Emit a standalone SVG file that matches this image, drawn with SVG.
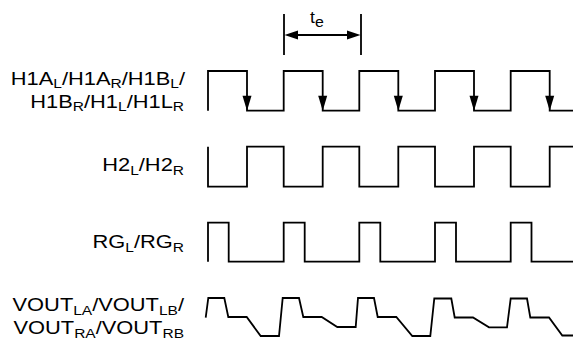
<svg xmlns="http://www.w3.org/2000/svg" width="573" height="351" viewBox="0 0 573 351">
<style>
.w{fill:none;stroke:#000;stroke-width:1.8;stroke-linejoin:miter}
.lbl{font-family:"Liberation Sans",Arial,sans-serif;font-size:19px;fill:#000}
.s{font-size:13.5px}
.ah{fill:#000}
</style>
<defs>
<path id="ahd" d="M0,0 L-4.5,-15 L4.5,-15 Z"/>
</defs>
<rect width="573" height="351" fill="#fff"/>
<g id="labels">
<g id="label-h1">
<text class="lbl" text-anchor="end" transform="translate(185,84.5) scale(1.15,1)">H1A<tspan class="s" dy="3.5">L</tspan><tspan dy="-3.5">/H1A</tspan><tspan class="s" dy="3.5">R</tspan><tspan dy="-3.5">/H1B</tspan><tspan class="s" dy="3.5">L</tspan><tspan dy="-3.5">/</tspan></text>
<text class="lbl" text-anchor="end" transform="translate(184,107.5) scale(1.15,1)">H1B<tspan class="s" dy="3.5">R</tspan><tspan dy="-3.5">/H1</tspan><tspan class="s" dy="3.5">L</tspan><tspan dy="-3.5">/H1L</tspan><tspan class="s" dy="3.5">R</tspan></text>
</g>
<g id="label-h2">
<text class="lbl" text-anchor="end" transform="translate(184,171) scale(1.15,1)">H2<tspan class="s" dy="3.5">L</tspan><tspan dy="-3.5">/H2</tspan><tspan class="s" dy="3.5">R</tspan></text>
</g>
<g id="label-rg">
<text class="lbl" text-anchor="end" transform="translate(184,248) scale(1.15,1)">RG<tspan class="s" dy="3.5">L</tspan><tspan dy="-3.5">/RG</tspan><tspan class="s" dy="3.5">R</tspan></text>
</g>
<g id="label-vout">
<text class="lbl" text-anchor="end" transform="translate(184,311) scale(1.15,1)">VOUT<tspan class="s" dy="3.5">LA</tspan><tspan dy="-3.5">/VOUT</tspan><tspan class="s" dy="3.5">LB</tspan><tspan dy="-3.5">/</tspan></text>
<text class="lbl" text-anchor="end" transform="translate(184,334) scale(1.15,1)">VOUT<tspan class="s" dy="3.5">RA</tspan><tspan dy="-3.5">/VOUT</tspan><tspan class="s" dy="3.5">RB</tspan></text>
</g>
</g>
<g id="wave-h1">
<path class="w" d="M208,110.7 V71 H247 V110.7 H283.7 V71 H322.7 V110.7 H359.3 V71 H398.3 V110.7 H435 V71 H474 V110.7 H510.7 V71 H549.7 V110.7 H573"/>
<use href="#ahd" x="247" y="110.7"/>
<use href="#ahd" x="322.7" y="110.7"/>
<use href="#ahd" x="398.3" y="110.7"/>
<use href="#ahd" x="474" y="110.7"/>
<use href="#ahd" x="549.7" y="110.7"/>
</g>
<g id="wave-h2">
<path class="w" d="M208,146.7 V186.7 H247 V146.7 H283.7 V186.7 H322.7 V146.7 H359.3 V186.7 H398.3 V146.7 H435 V186.7 H474 V146.7 H510.7 V186.7 H549.7 V146.7 H573"/>
</g>
<g id="wave-rg">
<path class="w" d="M208,261.7 V222.7 H228.7 V261.7 H283.7 V222.7 H304.7 V261.7 H359.3 V222.7 H380.3 V261.7 H435 V222.7 H456 V261.7 H510.7 V222.7 H531.5 V261.7 H573"/>
</g>
<g id="wave-vout">
<path class="w" d="M205.7,317.7 L208.3,298 H224.3 L228.3,317 H246.7 L260.7,336 H279 L282.7,298 H299 L303.3,317 H321.7 L337.3,327 H355.7 L358,298 H374 L377.7,317 H396.3 L412.3,336 H430.3 L434.3,298.5 H451.3 L454.7,317.5 H473 L489,327.3 H507 L510.7,298.5 H527 L530.3,317.5 H549 L562.3,335.5 H573"/>
</g>
<g id="connectors">
<line class="w" x1="284" y1="14" x2="284" y2="55"/>
<line class="w" x1="361" y1="14" x2="361" y2="55"/>
<line class="w" x1="290" y1="35" x2="355" y2="35"/>
<path class="ah" d="M284.5,35 L298,30.5 L298,39.5 Z"/>
<path class="ah" d="M360.5,35 L347,30.5 L347,39.5 Z"/>
<text class="lbl" transform="translate(310,23) scale(1.1,1)" style="font-size:16px">t<tspan dy="4" style="font-size:14.5px">e</tspan></text>
</g>
</svg>
